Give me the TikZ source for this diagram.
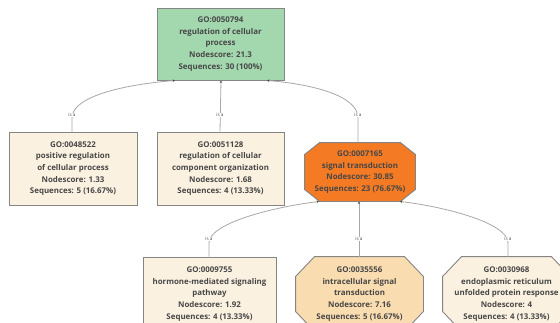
\documentclass[tikz,border=0pt]{standalone}
\usepackage{fontspec}
\setmainfont{Open Sans}
\usetikzlibrary{arrows.meta,backgrounds}
\definecolor{txt}{HTML}{474747}
\definecolor{bord}{HTML}{858585}
\definecolor{greenfill}{HTML}{A3D7AE}
\definecolor{cream}{HTML}{FBF1E1}
\definecolor{orangefill}{HTML}{F47A24}
\definecolor{lorange}{HTML}{F9DCB0}
\definecolor{edgec}{HTML}{A8A8A8}
\tikzset{
  term/.style={line width=0.9pt, align=center, text=txt,
    font=\fontsize{7.9}{11.6}\selectfont\bfseries, inner sep=1pt, rectangle},
  boxnode/.style={term, draw=bord},
  octnode/.style={term},
  octpath/.style={draw=bord, line width=0.9pt},
  isa/.style={fill=white, inner sep=0.6pt, font=\fontsize{4.6}{5}\selectfont, text=txt},
  edge/.style={draw=edgec, line width=0.8pt, -{Stealth[length=2.4pt,width=2.4pt,color=black!70]}}
}
% #1 node, #2 fill, #3 horizontal chamfer, #4 vertical chamfer
\newcommand{\octshape}[4]{%
  \begin{pgfonlayer}{background}
  \filldraw[octpath, fill=#2]
    ([xshift=#3]#1.north west) -- ([xshift=-#3]#1.north east)
    -- ([yshift=-#4]#1.north east) -- ([yshift=#4]#1.south east)
    -- ([xshift=-#3]#1.south east) -- ([xshift=#3]#1.south west)
    -- ([yshift=#4]#1.south west) -- ([yshift=-#4]#1.north west) -- cycle;
  \end{pgfonlayer}}
\begin{document}
\begin{tikzpicture}[x=1pt,y=-1pt]
\useasboundingbox (0,0) rectangle (560,322);
\begin{pgfonlayer}{background}
\fill[white] (0,0) rectangle (560,322);
\end{pgfonlayer}

\node[boxnode, fill=greenfill, minimum width=127pt, minimum height=72pt] (top) at (220.5,44)
  {GO:0050794\\regulation of cellular\\process\\Nodescore: 21.3\\Sequences: 30 (100\%)};

\node[boxnode, fill=cream, minimum width=128pt, minimum height=73pt] (pos) at (73,168.5)
  {GO:0048522\\positive regulation\\of cellular process\\Nodescore: 1.33\\Sequences: 5 (16.67\%)};
\node[boxnode, fill=cream, minimum width=127pt, minimum height=73pt] (comp) at (220.5,168.5)
  {GO:0051128\\regulation of cellular\\component organization\\Nodescore: 1.68\\Sequences: 4 (13.33\%)};
\node[octnode, minimum width=110pt, minimum height=58pt] (sig) at (360,172)
  {GO:0007165\\signal transduction\\Nodescore: 30.85\\Sequences: 23 (76.67\%)};
\octshape{sig}{orangefill}{15pt}{12pt}

\node[boxnode, fill=cream, minimum width=133pt, minimum height=74pt] (horm) at (209.5,294)
  {GO:0009755\\hormone-mediated signaling\\pathway\\Nodescore: 1.92\\Sequences: 4 (13.33\%)};
\node[octnode, minimum width=127pt, minimum height=74pt] (intra) at (359.5,294)
  {GO:0035556\\intracellular signal\\transduction\\Nodescore: 7.16\\Sequences: 5 (16.67\%)};
\octshape{intra}{lorange}{19pt}{20pt}
\node[octnode, minimum width=127pt, minimum height=74pt] (er) at (506.5,294)
  {GO:0030968\\endoplasmic reticulum\\unfolded protein response\\Nodescore: 4\\Sequences: 4 (13.33\%)};
\octshape{er}{cream}{19pt}{20pt}

% edges level 1
\coordinate (t1) at (175,80.5);
\coordinate (t2) at (221,80.5);
\coordinate (t3) at (267,80.5);
\draw[edge] (pos.north -| 72,0) -- (72,118) .. controls (72,95) and (130,84) .. (t1);
\draw[edge] (comp.north -| 220,0) -- (t2);
\draw[edge] (sig.north -| 358,0) -- (358,118) .. controls (358,95) and (310,84) .. (t3);
\node[isa] (l1) at (72,115) {is a};
\node[isa] (l2) at (220,115) {is a};
\node[isa] (l3) at (358,115) {is a};

% edges level 2
\coordinate (b1) at (319,201.5);
\coordinate (b2) at (359,201.5);
\coordinate (b3) at (400,201.5);
\draw[edge] (horm.north -| 209,0) -- (209,243) .. controls (209,222) and (280,206) .. (b1);
\draw[edge] (intra.north -| 359,0) -- (b2);
\draw[edge] (er.north -| 508,0) -- (508,243) .. controls (508,222) and (440,206) .. (b3);
\node[isa] (l4) at (209,239) {is a};
\node[isa] (l5) at (359,239) {is a};
\node[isa] (l6) at (508,239) {is a};
\end{tikzpicture}
\end{document}
